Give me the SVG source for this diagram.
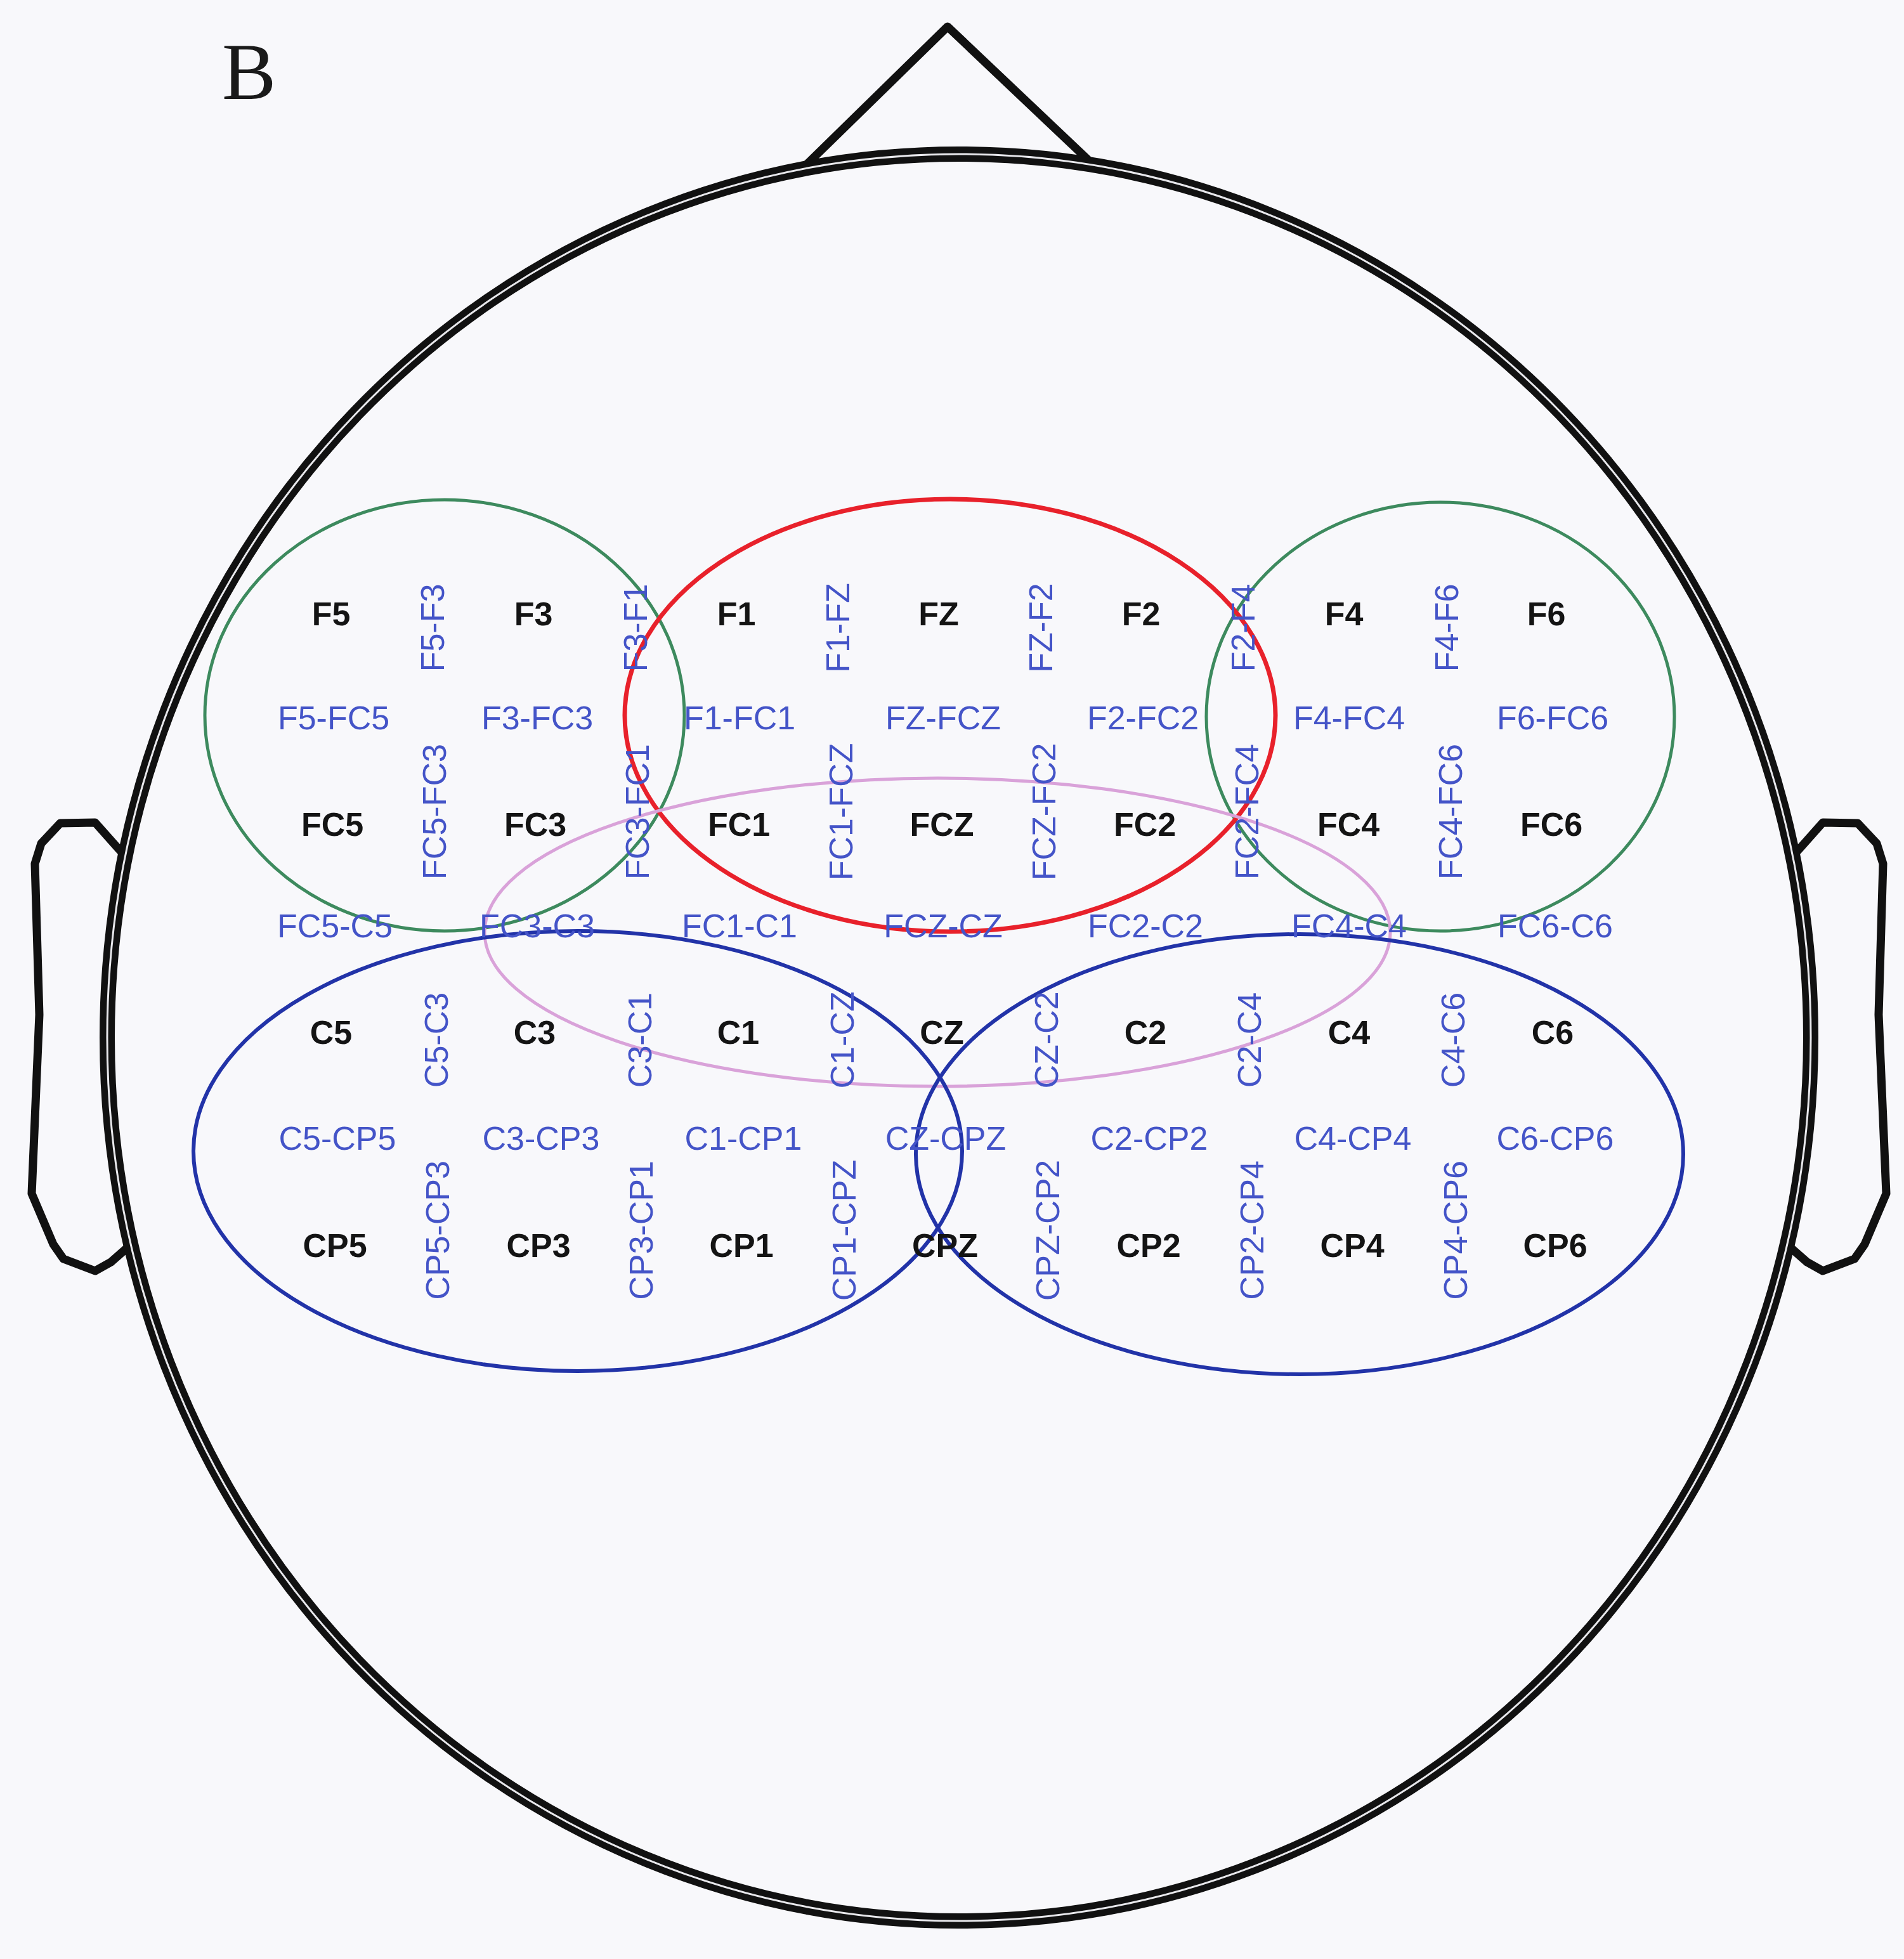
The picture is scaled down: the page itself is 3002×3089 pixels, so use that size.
<svg xmlns="http://www.w3.org/2000/svg" width="3002" height="3089" viewBox="0 0 3002 3089">
<style>
.bg{fill:#f8f8fb}
.outline{fill:none;stroke:#111;stroke-width:24}
.gap{fill:none;stroke:#e8e8ec;stroke-width:3}
.part{fill:none;stroke:#111;stroke-width:13;stroke-linejoin:round;stroke-linecap:round}
.grn{fill:none;stroke:#3d8a5e;stroke-width:5}
.red{fill:none;stroke:#e8212b;stroke-width:7}
.pnk{fill:none;stroke:#d9a2d9;stroke-width:5}
.blu{fill:none;stroke:#2233a8;stroke-width:6}
.el{font-family:"Liberation Sans",Arial,sans-serif;font-weight:bold;font-size:52px;fill:#141414;text-anchor:middle}
.pr{font-family:"Liberation Sans",Arial,sans-serif;font-size:52px;fill:#4454c8;text-anchor:middle}
.lbl{font-family:"Liberation Serif","Times New Roman",serif;font-size:128px;fill:#1a1a1a}
</style>
<rect class="bg" x="0" y="0" width="3002" height="3089"/>
<text class="lbl" x="350" y="156">B</text>

<g id="nose"><polyline class="part" points="1264,267 1494,42 1724,260"/></g>
<g id="ear-left"><polyline class="part" points="190,1342 150,1297 95,1298 65,1330 55,1362 62,1600 50,1882 84,1962 100,1985 150,2004 175,1990 200,1968"/></g>
<g id="ear-right"><polyline class="part" points="2834,1342 2874,1297 2929,1298 2959,1330 2969,1362 2962,1600 2974,1882 2940,1962 2924,1985 2874,2004 2849,1990 2824,1968"/></g>
<g id="head">
<ellipse class="outline" cx="1512" cy="1636" rx="1343" ry="1393"/>
<ellipse class="gap" cx="1512" cy="1636" rx="1343" ry="1393"/>
</g>

<g id="regions">
<ellipse id="region-left-frontal" class="grn" cx="701" cy="1128" rx="378" ry="340"/>
<ellipse id="region-right-frontal" class="grn" cx="2271" cy="1130" rx="369" ry="338"/>
<ellipse id="region-midline-frontal" class="red" cx="1498" cy="1128" rx="513" ry="341"/>
<ellipse id="region-fronto-central" class="pnk" cx="1478" cy="1470" rx="714" ry="243"/>
<ellipse id="region-left-central" class="blu" cx="911" cy="1815" rx="606" ry="347"/>
<ellipse id="region-right-central" class="blu" cx="2049" cy="1820" rx="605" ry="347"/>
</g>

<g id="electrodes">
<g id="row-F">
<text class="el" x="522" y="986">F5</text>
<text class="el" x="841" y="986">F3</text>
<text class="el" x="1161" y="986">F1</text>
<text class="el" x="1480" y="986">FZ</text>
<text class="el" x="1799" y="986">F2</text>
<text class="el" x="2119" y="986">F4</text>
<text class="el" x="2438" y="986">F6</text>
</g>
<g id="row-FC">
<text class="el" x="524" y="1318">FC5</text>
<text class="el" x="844" y="1318">FC3</text>
<text class="el" x="1165" y="1318">FC1</text>
<text class="el" x="1485" y="1318">FCZ</text>
<text class="el" x="1805" y="1318">FC2</text>
<text class="el" x="2126" y="1318">FC4</text>
<text class="el" x="2446" y="1318">FC6</text>
</g>
<g id="row-C">
<text class="el" x="522" y="1646">C5</text>
<text class="el" x="843" y="1646">C3</text>
<text class="el" x="1164" y="1646">C1</text>
<text class="el" x="1485" y="1646">CZ</text>
<text class="el" x="1806" y="1646">C2</text>
<text class="el" x="2127" y="1646">C4</text>
<text class="el" x="2448" y="1646">C6</text>
</g>
<g id="row-CP">
<text class="el" x="528" y="1982">CP5</text>
<text class="el" x="849" y="1982">CP3</text>
<text class="el" x="1169" y="1982">CP1</text>
<text class="el" x="1490" y="1982">CPZ</text>
<text class="el" x="1811" y="1982">CP2</text>
<text class="el" x="2132" y="1982">CP4</text>
<text class="el" x="2452" y="1982">CP6</text>
</g>
</g>

<g id="pairs-vertical">
<text class="pr" x="526" y="1150">F5-FC5</text>
<text class="pr" x="847" y="1150">F3-FC3</text>
<text class="pr" x="1166" y="1150">F1-FC1</text>
<text class="pr" x="1487" y="1150">FZ-FCZ</text>
<text class="pr" x="1802" y="1150">F2-FC2</text>
<text class="pr" x="2127" y="1150">F4-FC4</text>
<text class="pr" x="2448" y="1150">F6-FC6</text>
<text class="pr" x="528" y="1478">FC5-C5</text>
<text class="pr" x="847" y="1478">FC3-C3</text>
<text class="pr" x="1166" y="1478">FC1-C1</text>
<text class="pr" x="1487" y="1478">FCZ-CZ</text>
<text class="pr" x="1806" y="1478">FC2-C2</text>
<text class="pr" x="2127" y="1478">FC4-C4</text>
<text class="pr" x="2452" y="1478">FC6-C6</text>
<text class="pr" x="532" y="1813">C5-CP5</text>
<text class="pr" x="853" y="1813">C3-CP3</text>
<text class="pr" x="1172" y="1813">C1-CP1</text>
<text class="pr" x="1491" y="1813">CZ-CPZ</text>
<text class="pr" x="1812" y="1813">C2-CP2</text>
<text class="pr" x="2133" y="1813">C4-CP4</text>
<text class="pr" x="2452" y="1813">C6-CP6</text>
</g>

<g id="pairs-horizontal">
<text class="pr" dy="0.36em" transform="translate(681,990) rotate(-90)">F5-F3</text>
<text class="pr" dy="0.36em" transform="translate(1001,990) rotate(-90)">F3-F1</text>
<text class="pr" dy="0.36em" transform="translate(1320,990) rotate(-90)">F1-FZ</text>
<text class="pr" dy="0.36em" transform="translate(1640,990) rotate(-90)">FZ-F2</text>
<text class="pr" dy="0.36em" transform="translate(1959,990) rotate(-90)">F2-F4</text>
<text class="pr" dy="0.36em" transform="translate(2280,990) rotate(-90)">F4-F6</text>
<text class="pr" dy="0.36em" transform="translate(684,1280) rotate(-90)">FC5-FC3</text>
<text class="pr" dy="0.36em" transform="translate(1004,1280) rotate(-90)">FC3-FC1</text>
<text class="pr" dy="0.36em" transform="translate(1325,1280) rotate(-90)">FC1-FCZ</text>
<text class="pr" dy="0.36em" transform="translate(1645,1280) rotate(-90)">FCZ-FC2</text>
<text class="pr" dy="0.36em" transform="translate(1965,1280) rotate(-90)">FC2-FC4</text>
<text class="pr" dy="0.36em" transform="translate(2286,1280) rotate(-90)">FC4-FC6</text>
<text class="pr" dy="0.36em" transform="translate(687,1640) rotate(-90)">C5-C3</text>
<text class="pr" dy="0.36em" transform="translate(1008,1640) rotate(-90)">C3-C1</text>
<text class="pr" dy="0.36em" transform="translate(1327,1640) rotate(-90)">C1-CZ</text>
<text class="pr" dy="0.36em" transform="translate(1649,1640) rotate(-90)">CZ-C2</text>
<text class="pr" dy="0.36em" transform="translate(1969,1640) rotate(-90)">C2-C4</text>
<text class="pr" dy="0.36em" transform="translate(2290,1640) rotate(-90)">C4-C6</text>
<text class="pr" dy="0.36em" transform="translate(689,1940) rotate(-90)">CP5-CP3</text>
<text class="pr" dy="0.36em" transform="translate(1010,1940) rotate(-90)">CP3-CP1</text>
<text class="pr" dy="0.36em" transform="translate(1330,1940) rotate(-90)">CP1-CPZ</text>
<text class="pr" dy="0.36em" transform="translate(1651,1940) rotate(-90)">CPZ-CP2</text>
<text class="pr" dy="0.36em" transform="translate(1973,1940) rotate(-90)">CP2-CP4</text>
<text class="pr" dy="0.36em" transform="translate(2294,1940) rotate(-90)">CP4-CP6</text>
</g>
</svg>
